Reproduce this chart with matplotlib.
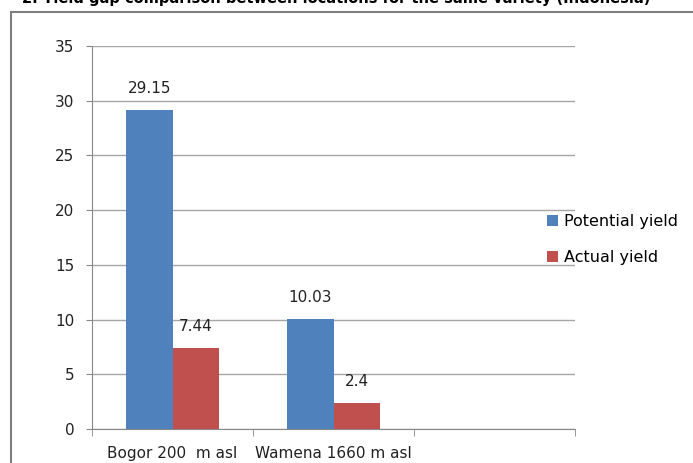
import matplotlib.pyplot as plt
import matplotlib.patches as mpatches
import numpy as np

# yield data (t/ha) per location
locations = ["Bogor 200  m asl", "Wamena 1660 m asl", ""]
potential_yield = [29.15, 10.03, np.nan]
actual_yield = [7.44, 2.4, np.nan]
series_names = ["Potential yield", "Actual yield"]
colors = ["#4f81bd", "#c0504d"]

fig = plt.figure(figsize=(6.93, 4.63), dpi=100)
ax = fig.add_axes([92 / 693, 1 - 429 / 463, (575 - 92) / 693, (429 - 46) / 463])

x = np.arange(len(locations))
w = 0.29
for i, (vals, name) in enumerate(zip([potential_yield, actual_yield], series_names)):
    pos = x + (i - 0.5) * w
    ax.bar(pos, vals, w, color=colors[i], label=name, zorder=3)
    for p, v in zip(pos, vals):
        if not np.isnan(v):
            ax.annotate(f"{v:g}", (p, v), xytext=(0, 10), textcoords="offset points",
                        ha="center", va="bottom", fontsize=11, color="#222222")

ax.set_xlim(-0.5, len(locations) - 0.5)
ax.set_ylim(0, 35)
ax.set_yticks(range(0, 36, 5))
ax.tick_params(axis="y", labelsize=11, length=4.3, color="#888888", labelcolor="#222222", pad=8.5)
ax.set_xticks(x)
ax.set_xticklabels(locations, fontsize=11, color="#222222")
ax.set_xticks(np.arange(-0.5, len(locations), 1), minor=True)
ax.tick_params(axis="x", which="major", length=0, pad=12)
ax.tick_params(axis="x", which="minor", length=5, color="#888888")
ax.grid(axis="y", color="#a6a6a6", linewidth=1, zorder=0)
for s in ["top", "right"]:
    ax.spines[s].set_visible(False)
for s in ["left", "bottom"]:
    ax.spines[s].set_color("#888888")

ax.legend(loc="center left", bbox_to_anchor=(0.912, 0.495), frameon=False,
          prop={"size": 11.5}, handlelength=0.7, handleheight=0.7,
          handletextpad=0.4, labelspacing=1.3)

# chart border (left and top edges only show) and heading
fig.patches.append(mpatches.Rectangle((11 / 693, -0.1), 1.0, 1.1 - 12 / 463,
                                      transform=fig.transFigure, fill=False,
                                      edgecolor="#7f7f7f", linewidth=1.5))
fig.text(22 / 693, 1 - 3 / 463, "2. Yield gap comparison between locations for the same variety (Indonesia)",
         fontsize=10.5, fontweight="bold", va="baseline")

fig.savefig("out.png", dpi=100)
